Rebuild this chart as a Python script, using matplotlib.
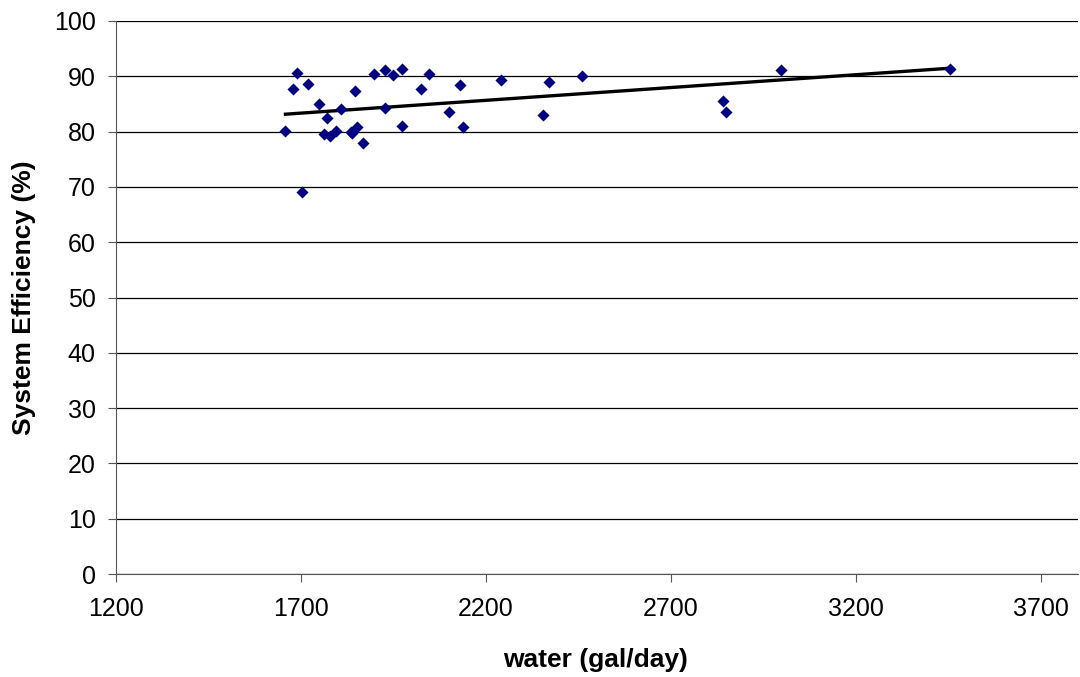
import numpy as np
import matplotlib
matplotlib.use("Agg")
import matplotlib.pyplot as plt

plt.rcParams['font.family'] = ['Liberation Sans', 'DejaVu Sans']

water = [1658, 1688, 1679, 1718, 1702, 1748, 1770, 1762, 1778, 1794, 1807,
         1836, 1839, 1852, 1845, 1868, 1897, 1927, 1927, 1949, 1973, 1973,
         2024, 2047, 2099, 2130, 2137, 2241, 2355, 2369, 2459, 2840, 2849,
         2997, 3454]
efficiency = [80.1, 90.6, 87.7, 88.6, 69.0, 85.0, 82.4, 79.5, 79.2, 80.1, 84.1,
              80.0, 79.8, 80.9, 87.4, 77.9, 90.5, 91.1, 84.2, 90.2, 91.4, 81.1,
              87.7, 90.5, 83.6, 88.4, 80.9, 89.4, 83.0, 88.9, 90.05, 85.5, 83.5,
              91.1, 91.4]
x_ticks = [1200, 1700, 2200, 2700, 3200, 3700]
y_ticks = list(range(0, 101, 10))

fig = plt.figure(figsize=(10.8, 6.77), dpi=100)
ax = fig.add_axes([116/1080, 1 - 574/677, (1078-116)/1080, (574-21)/677])

ax.scatter(water, efficiency, marker='D', s=38, color='#000080', zorder=3, linewidths=0)

coef = np.polyfit(water, efficiency, 1)
xs = np.array([min(water), max(water)])
ax.plot(xs, np.polyval(coef, xs), color='black', lw=2.4, zorder=2)

ax.set_xlim(1200, 3800)
ax.set_ylim(0, 100)
ax.set_xticks(x_ticks)
ax.set_yticks(y_ticks)
ax.yaxis.grid(True, color='black', lw=0.9)
ax.set_axisbelow(True)
for s in ['top', 'right']:
    ax.spines[s].set_visible(False)
for s in ['left', 'bottom']:
    ax.spines[s].set_color('#555555')
ax.tick_params(axis='both', labelsize=18, direction='out', length=5.5, color='#555555')
ax.tick_params(axis='y', pad=9)
ax.tick_params(axis='x', pad=11)
ax.set_xlabel('water (gal/day)', fontsize=19, fontweight='bold')
ax.set_ylabel('System Efficiency (%)', fontsize=19, fontweight='bold')
ax.xaxis.label.set_va('center')
ax.yaxis.label.set_va('center')
ax.xaxis.set_label_coords(0.498, (574 - 660) / 553)
ax.yaxis.set_label_coords((24 - 116) / 962, 0.5)

fig.savefig('out.png', dpi=100)
